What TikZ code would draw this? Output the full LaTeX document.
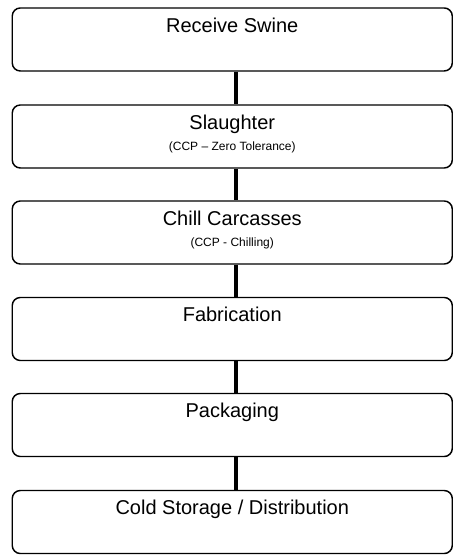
\documentclass[tikz,border=0pt]{standalone}
\usepackage{fontspec}
\setmainfont{Liberation Sans}
\usepackage{tikz}

\begin{document}
\begin{tikzpicture}[x=0.75pt,y=0.75pt,yscale=-1,xscale=1,
    stepbox/.style={draw, rounded corners=6pt, line width=1.1pt, minimum width=330pt, minimum height=47.25pt, inner sep=0pt},
    steptitle/.style={anchor=base, inner sep=0.75pt, font=\fontsize{15}{18}\selectfont},
    stepnote/.style={anchor=base, inner sep=0.75pt, font=\fontsize{9}{11}\selectfont},
    flowline/.style={line width=3pt}]
    \useasboundingbox (0,0) rectangle (453,555);

    %Rounded Rect
    \node [stepbox] (swine) at (232.25,39.5) {};
    %Rounded Rect
    \node [stepbox] (slaughter) at (232.25,136.5) {};
    %Rounded Rect
    \node [stepbox] (chill) at (232.25,232.5) {};
    %Rounded Rect
    \node [stepbox] (fabric) at (232.25,329) {};
    %Rounded Rect
    \node [stepbox] (pack) at (232.25,425) {};
    %Rounded Rect
    \node [stepbox] (storage) at (232.25,522) {};

    % Text Node
    \node [steptitle] (swineT) at ([yshift=18.75pt]swine.north) {Receive Swine};
    % Text Node
    \node [steptitle] (slaughterT) at ([yshift=18.75pt]slaughter.north) {Slaughter};
    % Text Node
    \node [stepnote] (slaughterN) at ([yshift=35pt]slaughter.north) {(CCP -- Zero Tolerance)};
    % Text Node
    \node [steptitle] (chillT) at ([yshift=18.75pt]chill.north) {Chill Carcasses};
    % Text Node
    \node [stepnote] (chillN) at ([yshift=35pt]chill.north) {(CCP - Chilling)};
    % Text Node
    \node [steptitle] (fabricT) at ([yshift=18.75pt]fabric.north) {Fabrication};
    % Text Node
    \node [steptitle] (packT) at ([yshift=18.75pt]pack.north) {Packaging};
    % Text Node
    \node [steptitle] (storageT) at ([yshift=18.75pt]storage.north) {Cold Storage / Distribution};

    %Straight Lines
    \draw [flowline] ([xshift=3pt]swine.south) -- ([xshift=3pt]slaughter.north);
    %Straight Lines
    \draw [flowline] ([xshift=3pt]slaughter.south) -- ([xshift=3pt]chill.north);
    %Straight Lines
    \draw [flowline] ([xshift=3pt]chill.south) -- ([xshift=3pt]fabric.north);
    %Straight Lines
    \draw [flowline] ([xshift=3pt]fabric.south) -- ([xshift=3pt]pack.north);
    %Straight Lines
    \draw [flowline] ([xshift=3pt]pack.south) -- ([xshift=3pt]storage.north);
\end{tikzpicture}
\end{document}
